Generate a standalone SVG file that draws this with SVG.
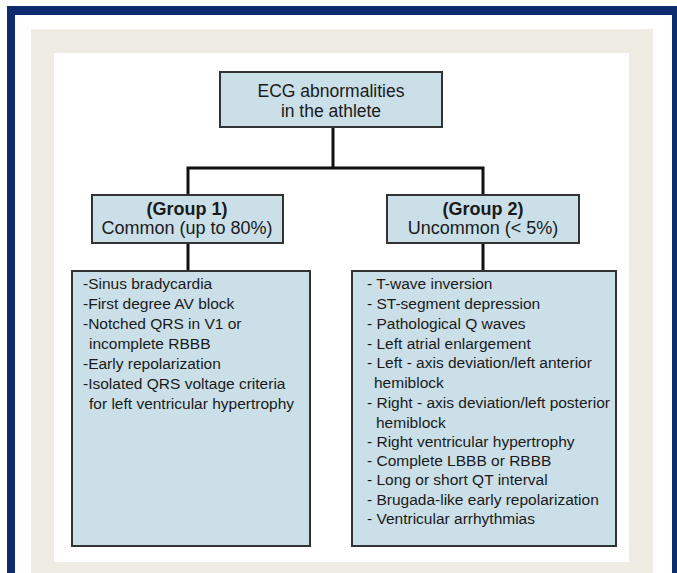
<svg xmlns="http://www.w3.org/2000/svg" width="677" height="573" viewBox="0 0 677 573">
<style>
.box{fill:#cadfe8;stroke:#333;stroke-width:2}
.t{font-family:"Liberation Sans",Arial,sans-serif;fill:#1a1a1a}
.title{font-size:17.5px;text-anchor:middle}
.gh{font-size:18px;font-weight:bold;text-anchor:middle}
.gs{font-size:18px;text-anchor:middle}
.li{font-size:15.5px}
.conn{fill:none;stroke:#111;stroke-width:3;stroke-linecap:square}
</style>
<rect x="0" y="0" width="677" height="573" fill="#ffffff"/>
<rect x="7" y="6" width="670" height="567" fill="#0d2d6e"/>
<rect x="15" y="15" width="657" height="558" fill="#ffffff"/>
<rect x="31" y="29" width="622" height="544" fill="#efede3"/>
<rect x="54" y="53" width="575" height="509" fill="#ffffff"/>

<g id="connectors">
<path class="conn" d="M333,127 V168 M188,168 H483 M188,168 V195 M483,168 V195 M188,243 V271 M483,243 V271"/>
</g>

<g id="root">
<rect class="box" x="220" y="72" width="222" height="55"/>
<text class="t title" x="331" y="97">ECG abnormalities</text>
<text class="t title" x="331" y="117">in the athlete</text>
</g>

<g id="group1">
<rect class="box" x="92" y="195" width="191" height="48"/>
<text class="t gh" x="187" y="215">(Group 1)</text>
<text class="t gs" x="187" y="234">Common (up to 80%)</text>
</g>

<g id="group2">
<rect class="box" x="387" y="195" width="192" height="48"/>
<text class="t gh" x="483" y="215">(Group 2)</text>
<text class="t gs" x="483" y="234">Uncommon (&lt; 5%)</text>
</g>

<g id="list1">
<rect class="box" x="72" y="271" width="238" height="275"/>
<text class="t li" x="83" y="289">-Sinus bradycardia</text>
<text class="t li" x="83" y="309">-First degree AV block</text>
<text class="t li" x="83" y="329">-Notched QRS in V1 or</text>
<text class="t li" x="89" y="349">incomplete RBBB</text>
<text class="t li" x="83" y="369">-Early repolarization</text>
<text class="t li" x="83" y="389">-Isolated QRS voltage criteria</text>
<text class="t li" x="89" y="409">for left ventricular hypertrophy</text>
</g>

<g id="list2">
<rect class="box" x="352" y="271" width="264" height="275"/>
<text class="t li" x="367" y="289">- T-wave inversion</text>
<text class="t li" x="367" y="309">- ST-segment depression</text>
<text class="t li" x="367" y="329">- Pathological Q waves</text>
<text class="t li" x="367" y="349">- Left atrial enlargement</text>
<text class="t li" x="367" y="368">- Left - axis deviation/left anterior</text>
<text class="t li" x="374" y="388">hemiblock</text>
<text class="t li" x="367" y="408">- Right - axis deviation/left posterior</text>
<text class="t li" x="376" y="428">hemiblock</text>
<text class="t li" x="367" y="447">- Right ventricular hypertrophy</text>
<text class="t li" x="367" y="466">- Complete LBBB or RBBB</text>
<text class="t li" x="367" y="485">- Long or short QT interval</text>
<text class="t li" x="367" y="505">- Brugada-like early repolarization</text>
<text class="t li" x="367" y="524">- Ventricular arrhythmias</text>
</g>
</svg>
